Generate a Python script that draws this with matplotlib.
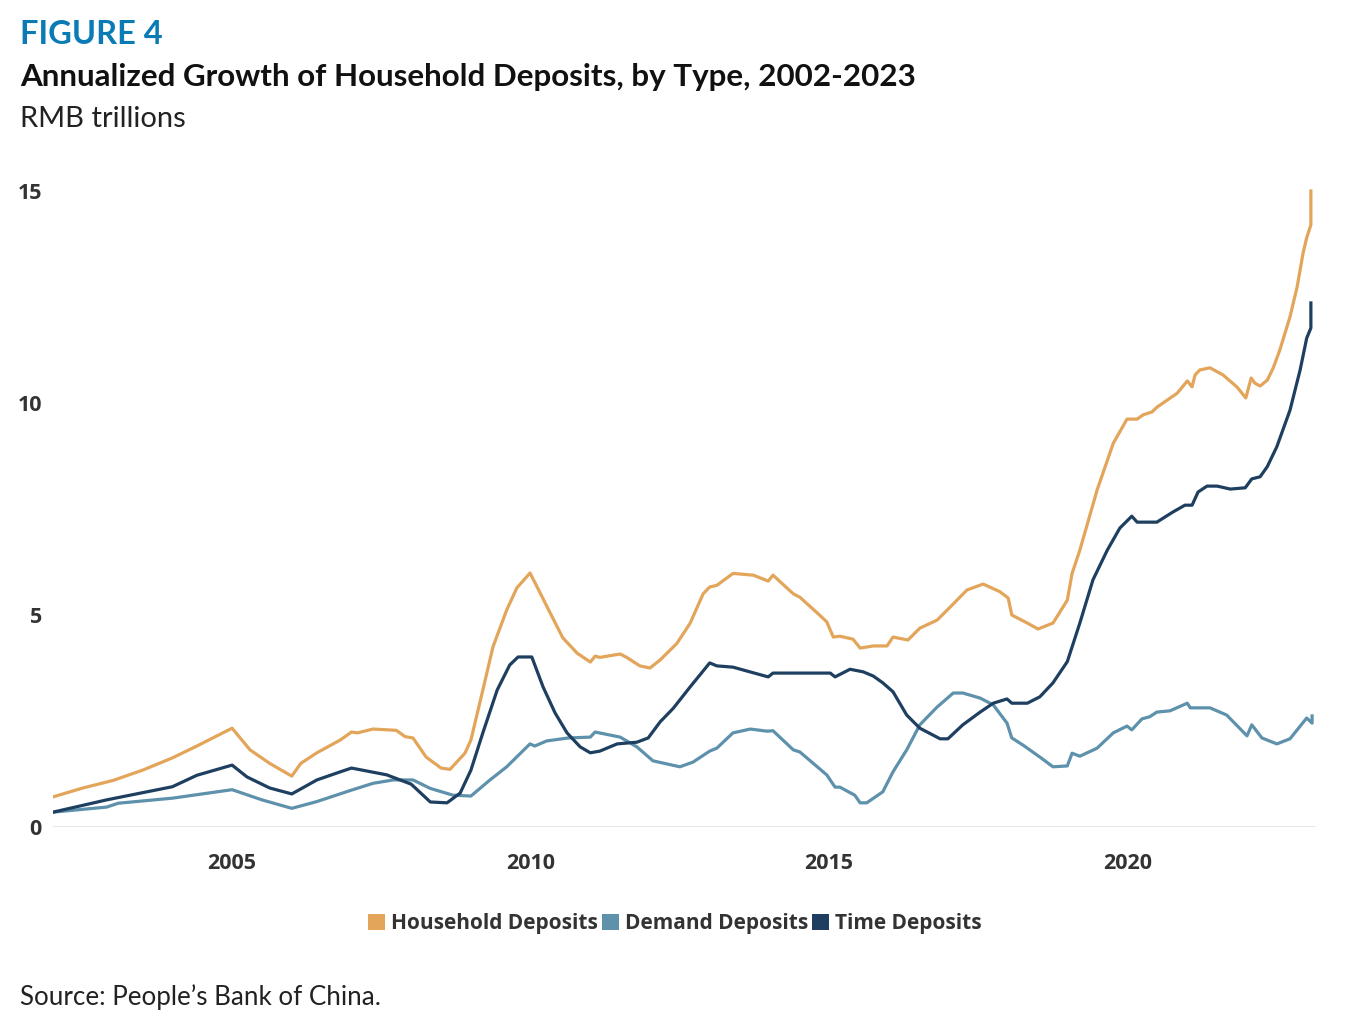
import matplotlib
matplotlib.use("Agg")
import matplotlib.pyplot as plt
from matplotlib.patches import Patch

# ---------------- data ----------------
hh_x = [2002.00, 2002.50, 2003.01, 2003.50, 2004.00, 2004.41, 2005.00, 2005.30, 2005.63, 2006.00,
        2006.15, 2006.42, 2006.81, 2007.00, 2007.10, 2007.36, 2007.75, 2007.90, 2008.03, 2008.25,
        2008.50, 2008.65, 2008.90, 2009.00, 2009.20, 2009.37, 2009.60, 2009.77, 2009.99, 2010.11,
        2010.32, 2010.54, 2010.78, 2011.00, 2011.08, 2011.16, 2011.50, 2011.61, 2011.83, 2012.00,
        2012.17, 2012.45, 2012.67, 2012.89, 2013.00, 2013.12, 2013.39, 2013.73, 2013.98, 2014.06,
        2014.40, 2014.51, 2014.80, 2014.96, 2015.07, 2015.18, 2015.40, 2015.52, 2015.74, 2015.97,
        2016.07, 2016.32, 2016.52, 2016.81, 2017.03, 2017.31, 2017.58, 2017.86, 2018.00, 2018.06,
        2018.32, 2018.50, 2018.75, 2018.99, 2019.07, 2019.20, 2019.49, 2019.76, 2019.99, 2020.16,
        2020.26, 2020.41, 2020.49, 2020.83, 2021.00, 2021.08, 2021.13, 2021.21, 2021.38, 2021.60,
        2021.83, 2021.98, 2022.07, 2022.13, 2022.22, 2022.34, 2022.44, 2022.55, 2022.72, 2022.84,
        2022.94, 2023.00, 2023.07, 2023.07]
hh_y = [0.71, 0.92, 1.10, 1.34, 1.63, 1.91, 2.33, 1.82, 1.50, 1.20,
        1.50, 1.75, 2.05, 2.24, 2.22, 2.31, 2.28, 2.13, 2.10, 1.65,
        1.39, 1.36, 1.74, 2.05, 3.23, 4.25, 5.12, 5.64, 5.99, 5.66,
        5.07, 4.46, 4.10, 3.89, 4.03, 4.00, 4.08, 4.00, 3.80, 3.75,
        3.94, 4.33, 4.80, 5.50, 5.66, 5.70, 5.98, 5.94, 5.80, 5.94,
        5.50, 5.42, 5.05, 4.84, 4.48, 4.50, 4.43, 4.22, 4.27, 4.27,
        4.48, 4.41, 4.69, 4.88, 5.19, 5.59, 5.73, 5.55, 5.40, 5.00,
        4.81, 4.67, 4.81, 5.35, 5.98, 6.53, 7.95, 9.05, 9.62, 9.62,
        9.72, 9.79, 9.90, 10.23, 10.52, 10.38, 10.66, 10.78, 10.83, 10.66,
        10.38, 10.12, 10.59, 10.47, 10.40, 10.54, 10.83, 11.25, 12.03, 12.74,
        13.54, 13.90, 14.20, 15.00]

dd_x = [2002.00, 2002.90, 2003.09, 2004.00, 2005.00, 2005.50, 2006.00, 2006.42, 2007.00, 2007.36,
        2007.70, 2008.03, 2008.32, 2008.70, 2009.00, 2009.32, 2009.60, 2009.99, 2010.07, 2010.27,
        2010.63, 2011.00, 2011.08, 2011.50, 2011.78, 2012.05, 2012.50, 2012.72, 2013.00, 2013.12,
        2013.39, 2013.68, 2013.96, 2014.06, 2014.40, 2014.51, 2014.96, 2015.10, 2015.18, 2015.43,
        2015.52, 2015.63, 2015.90, 2016.07, 2016.30, 2016.52, 2016.81, 2017.08, 2017.24, 2017.53,
        2017.75, 2017.98, 2018.06, 2018.25, 2018.53, 2018.75, 2018.99, 2019.07, 2019.20, 2019.49,
        2019.76, 2019.99, 2020.07, 2020.24, 2020.37, 2020.49, 2020.71, 2021.00, 2021.05, 2021.38,
        2021.66, 2022.00, 2022.08, 2022.25, 2022.50, 2022.72, 2023.00, 2023.09, 2023.09]
dd_y = [0.35, 0.47, 0.56, 0.68, 0.88, 0.64, 0.44, 0.60, 0.87, 1.03,
        1.11, 1.11, 0.91, 0.75, 0.73, 1.11, 1.42, 1.96, 1.91, 2.03,
        2.10, 2.12, 2.24, 2.12, 1.89, 1.56, 1.42, 1.53, 1.79, 1.86,
        2.22, 2.31, 2.26, 2.27, 1.82, 1.77, 1.23, 0.94, 0.94, 0.75,
        0.57, 0.57, 0.83, 1.30, 1.82, 2.41, 2.83, 3.16, 3.16, 3.04,
        2.88, 2.45, 2.10, 1.93, 1.65, 1.42, 1.44, 1.74, 1.67, 1.86,
        2.22, 2.38, 2.29, 2.55, 2.60, 2.71, 2.74, 2.92, 2.81, 2.81,
        2.64, 2.15, 2.41, 2.10, 1.96, 2.08, 2.57, 2.45, 2.62]

td_x = [2002.00, 2002.90, 2004.00, 2004.41, 2005.00, 2005.25, 2005.63, 2006.00, 2006.42, 2006.81,
        2007.00, 2007.59, 2008.00, 2008.32, 2008.60, 2008.82, 2009.00, 2009.20, 2009.44, 2009.65,
        2009.79, 2010.02, 2010.21, 2010.41, 2010.61, 2010.83, 2011.00, 2011.16, 2011.45, 2011.78,
        2011.97, 2012.17, 2012.39, 2012.67, 2013.00, 2013.12, 2013.39, 2013.62, 2013.98, 2014.06,
        2014.68, 2015.02, 2015.10, 2015.35, 2015.57, 2015.74, 2015.90, 2016.07, 2016.30, 2016.52,
        2016.86, 2016.99, 2017.24, 2017.53, 2017.75, 2017.98, 2018.06, 2018.32, 2018.53, 2018.75,
        2018.99, 2019.20, 2019.42, 2019.66, 2019.87, 2020.07, 2020.16, 2020.49, 2020.76, 2020.96,
        2021.08, 2021.18, 2021.33, 2021.50, 2021.72, 2021.97, 2022.08, 2022.22, 2022.34, 2022.50,
        2022.72, 2022.89, 2023.00, 2023.07, 2023.07]
td_y = [0.35, 0.64, 0.95, 1.22, 1.46, 1.18, 0.92, 0.78, 1.11, 1.30,
        1.39, 1.23, 1.01, 0.59, 0.57, 0.80, 1.34, 2.22, 3.23, 3.82,
        4.01, 4.01, 3.30, 2.69, 2.22, 1.89, 1.75, 1.79, 1.96, 2.00,
        2.10, 2.48, 2.80, 3.30, 3.87, 3.80, 3.77, 3.68, 3.54, 3.63,
        3.63, 3.63, 3.54, 3.72, 3.66, 3.56, 3.40, 3.19, 2.64, 2.33,
        2.08, 2.08, 2.41, 2.71, 2.92, 3.02, 2.92, 2.92, 3.07, 3.40,
        3.90, 4.81, 5.83, 6.53, 7.05, 7.33, 7.19, 7.19, 7.43, 7.59,
        7.59, 7.90, 8.04, 8.04, 7.97, 8.00, 8.21, 8.26, 8.50, 8.97,
        9.83, 10.78, 11.53, 11.77, 12.36]

series_names = ["Household Deposits", "Demand Deposits", "Time Deposits"]
series_colors = ["#E2A55A", "#5E91AB", "#1E3F60"]
x_ticks = [2005, 2010, 2015, 2020]
y_ticks = [0, 5, 10, 15]

# ---------------- figure ----------------
W, H = 1359, 1028
fig = plt.figure(figsize=(W / 100, H / 100), dpi=100)

def fx(px):
    return px / W

def fy(py):
    return 1 - py / H

y_top = 15.3
ax_left, ax_right = 53, 1316
ax_bottom = 827
ax_top = 827 - y_top * 42.4
ax = fig.add_axes([fx(ax_left), fy(ax_bottom), fx(ax_right - ax_left), (ax_bottom - ax_top) / H])

ax.plot(hh_x, hh_y, color=series_colors[0], lw=2.3, solid_joinstyle="round", zorder=3)
ax.plot(dd_x, dd_y, color=series_colors[1], lw=2.3, solid_joinstyle="round", zorder=3)
ax.plot(td_x, td_y, color=series_colors[2], lw=2.3, solid_joinstyle="round", zorder=4)

ax.set_xlim(2002, 2002 + (ax_right - ax_left) / 59.7)
ax.set_ylim(0, y_top)
ax.axhline(0, color="#e3e3e3", lw=1.2, zorder=1)

for s in ax.spines.values():
    s.set_visible(False)
ax.set_xticks(x_ticks)
ax.set_xticklabels([str(t) for t in x_ticks])
ax.set_yticks(y_ticks)
ax.set_yticklabels([str(t) for t in y_ticks])
ax.tick_params(length=0)
ax.tick_params(axis="x", pad=19)
ax.tick_params(axis="y", pad=8)
for lab in ax.get_xticklabels() + ax.get_yticklabels():
    lab.set_fontfamily("Open Sans")
    lab.set_fontweight("bold")
    lab.set_fontsize(15.5)
    lab.set_color("#333333")

# ---------------- texts ----------------
fig.text(fx(20), fy(34), "FIGURE 4", fontfamily="Lato", fontweight="bold", fontsize=23.5,
         color="#0B7BB5", va="center", ha="left")
fig.text(fx(20), fy(77), "Annualized Growth of Household Deposits, by Type, 2002-2023",
         fontfamily="Lato", fontweight="bold", fontsize=22.6, color="#111111", va="center", ha="left")
fig.text(fx(20), fy(119), "RMB trillions", fontfamily="Lato", fontsize=21, color="#222222",
         va="center", ha="left")
fig.text(fx(20), fy(997), "Source: People\u2019s Bank of China.", fontfamily="Lato", fontsize=18.7,
         color="#222222", va="center", ha="left")

handles = [Patch(facecolor=c, edgecolor="none") for c in series_colors]
leg = fig.legend(handles, series_names, loc="center", bbox_to_anchor=(fx(675), fy(924)),
                 ncol=3, frameon=False, handlelength=0.8, handleheight=0.8, handletextpad=0.3,
                 columnspacing=0.2, prop={"family": "Open Sans", "weight": "bold", "size": 15})
for t in leg.get_texts():
    t.set_color("#333333")

fig.savefig("out.png", dpi=100)
